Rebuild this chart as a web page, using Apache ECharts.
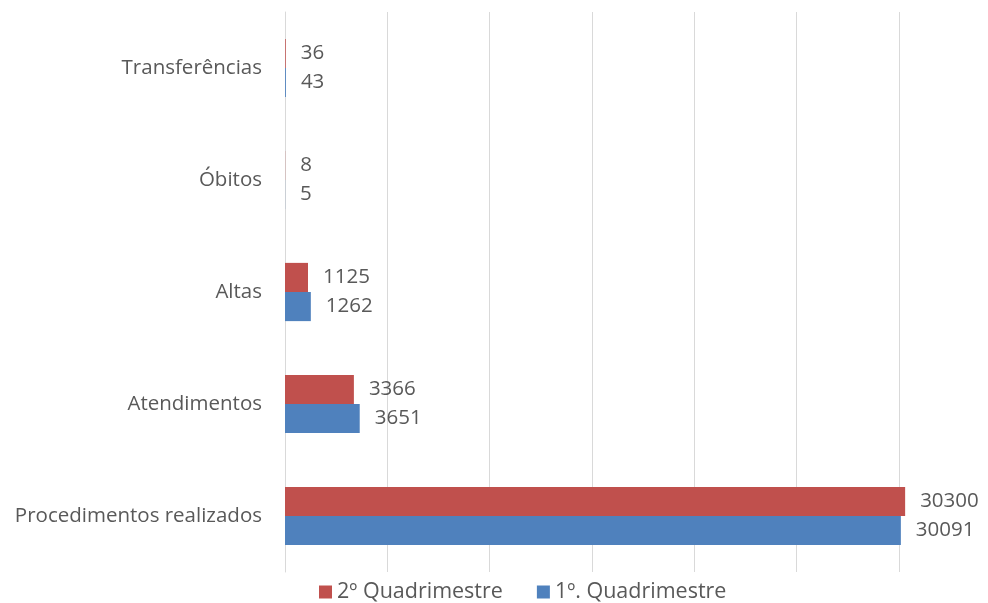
<!DOCTYPE html>
<html>
<head>
<meta charset="utf-8">
<script src="https://cdn.jsdelivr.net/npm/echarts@6/dist/echarts.min.js"></script>
<style>
    * { margin: 0; padding: 0; }
    html, body { background: #fff; }
</style>
</head>
<body>
<!--容器-->
<div id="chart" style="width: 988px;height: 603px;"></div>
<script>
    var categorias = ['Procedimentos realizados', 'Atendimentos', 'Altas', 'Óbitos', 'Transferências']
    var quad2 = [30300, 3366, 1125, 8, 36]
    var quad1 = [30091, 3651, 1262, 5, 43]
    var nomes = ['2º Quadrimestre', '1º. Quadrimestre']

    var fonte = 'Open Sans'
    var corTexto = '#595959'
    var tamanho = 20.5

    var charts = echarts.init(document.getElementById('chart'))
    charts.setOption({
        color: ['#C0504D', '#4F81BD'],
        animation: false,
        textStyle: { fontFamily: fonte },
        grid: {
            left: 285,
            top: 12,
            width: 614,
            height: 560
        },
        legend: {
            data: nomes,
            top: 576,
            left: 314,
            icon: 'rect',
            itemWidth: 13,
            itemHeight: 13,
            itemGap: 34,
            textStyle: { fontSize: 21.5, color: corTexto, fontFamily: fonte }
        },
        xAxis: {
            type: 'value',
            min: 0,
            max: 30000,
            interval: 5000,
            axisLabel: { show: false },
            axisLine: { show: false },
            axisTick: { show: false },
            splitLine: { lineStyle: { color: '#d9d9d9', width: 1 } }
        },
        yAxis: {
            type: 'category',
            data: categorias,
            axisLine: { lineStyle: { color: '#d9d9d9' } },
            axisTick: { show: false },
            axisLabel: { color: corTexto, fontSize: tamanho, margin: 23, fontFamily: fonte }
        },
        series: [
            {
                name: nomes[0],
                type: 'bar',
                data: quad2,
                clip: false,
                barGap: '0%',
                barCategoryGap: '48%',
                label: { show: true, position: 'right', distance: 15, color: corTexto, fontSize: tamanho, fontFamily: fonte }
            },
            {
                name: nomes[1],
                type: 'bar',
                data: quad1,
                clip: false,
                barGap: '0%',
                barCategoryGap: '48%',
                label: { show: true, position: 'right', distance: 15, color: corTexto, fontSize: tamanho, fontFamily: fonte }
            }
        ]
    })
</script>
</body>
</html>
